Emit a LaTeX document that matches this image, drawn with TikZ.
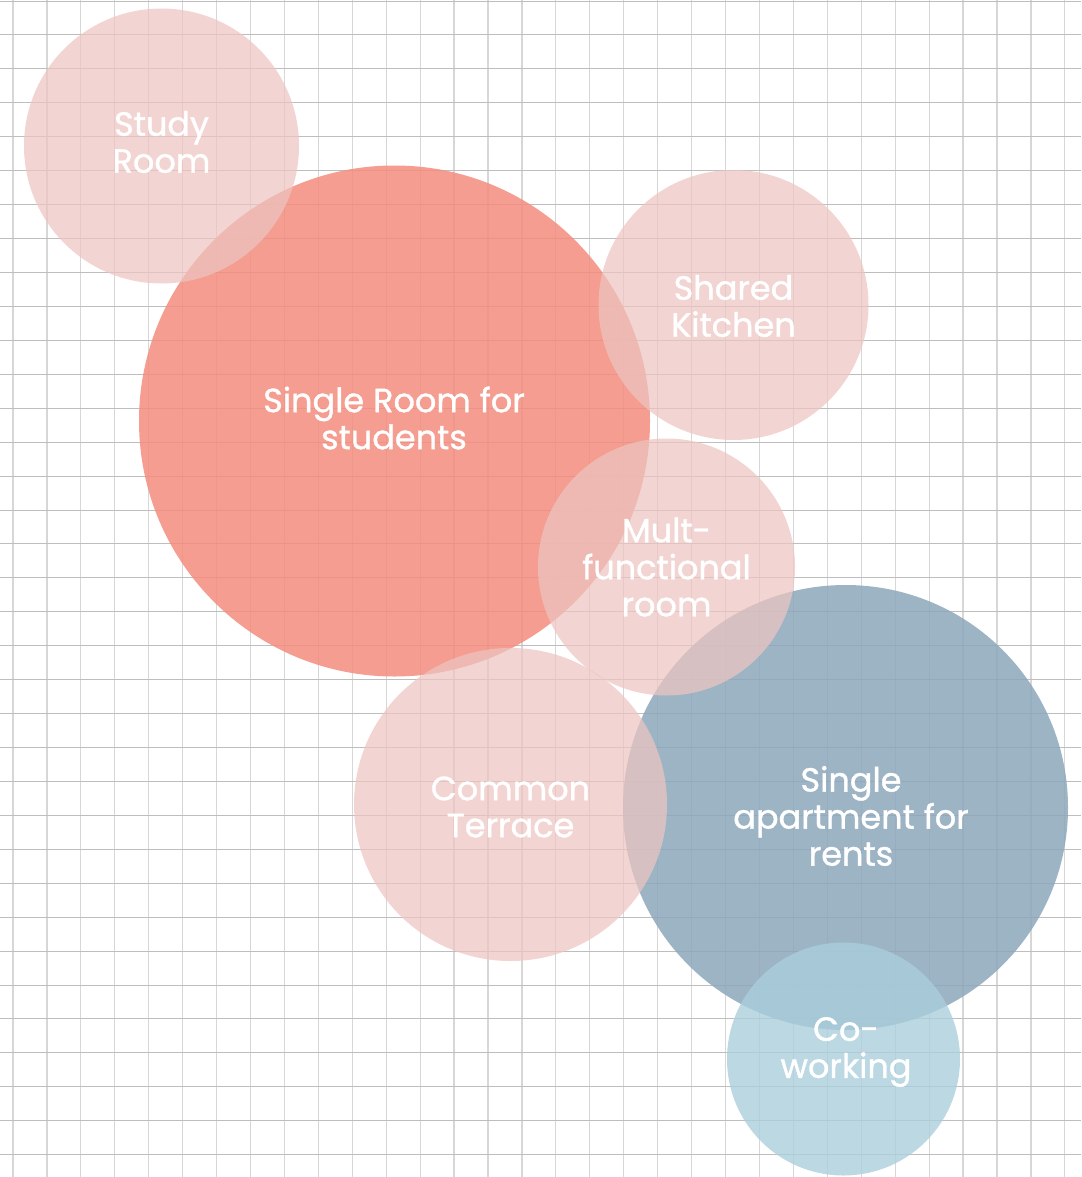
\documentclass[tikz,border=0pt]{standalone}
\usepackage{fontspec}
\setmainfont{Poppins}
\newfontfamily\lblfont{Poppins}[FakeBold=1.1]
\definecolor{salmon}{RGB}{243,140,125}
\definecolor{lightpink}{RGB}{238,197,193}
\definecolor{steel}{RGB}{141,167,188}
\definecolor{skyblue}{RGB}{170,207,220}
\definecolor{gridh}{RGB}{190,190,190}
\definecolor{gridv}{RGB}{215,215,215}
\begin{document}
\begin{tikzpicture}[x=1pt,y=-1pt,
  bubble/.style={circle, draw=none, inner sep=0pt, minimum size=#1},
  big/.style={fill=salmon, fill opacity=0.85},
  soft/.style={fill=lightpink, fill opacity=0.72},
  apt/.style={fill=steel, fill opacity=0.85},
  cowork/.style={fill=skyblue, fill opacity=0.8},
  lbl/.style={text=white, align=center, font=\lblfont\fontsize{33.5}{37}\selectfont, inner sep=0pt}]
\useasboundingbox (0,0) rectangle (1081,1177);
\fill[white] (0,0) rectangle (1081,1177);
% grid
\foreach \k in {0,...,31} {\draw[gridv, line width=1.2pt] ({13+33.93*\k},0) -- ({13+33.93*\k},1177);}
\foreach \k in {0,...,34} {\draw[gridh, line width=0.9pt] (0,{1+33.93*\k}) -- (1081,{1+33.93*\k});}
% circles
\node[bubble=511, big] (srs) at (394.5,421) {};
\node[bubble=445, apt] (apt) at (845.5,807.5) {};
\node[bubble=275, soft] (study) at (161.5,146) {};
\node[bubble=270, soft] (kitchen) at (733.5,305) {};
\node[bubble=257, soft] (multi) at (666.5,567) {};
\node[bubble=313, soft] (terrace) at (510.5,804.5) {};
\node[bubble=233, cowork] (cow) at (843.5,1059) {};
% labels
\node[lbl] (tstudy) at (161.5,142) {Study\\Room};
\node[lbl] (tsrs) at (394,418) {Single Room for\\students};
\node[lbl] (tkitchen) at (733.5,306) {Shared\\Kitchen};
\node[lbl] (tmulti) at (666.5,567) {Mult-\\functional\\room};
\node[lbl] (tterrace) at (510.5,807) {Common\\Terrace};
\node[lbl] (tapt) at (851,816) {Single\\apartment for\\rents};
\node[lbl] (tcow) at (846,1052) {Co-\\working};
\end{tikzpicture}
\end{document}
